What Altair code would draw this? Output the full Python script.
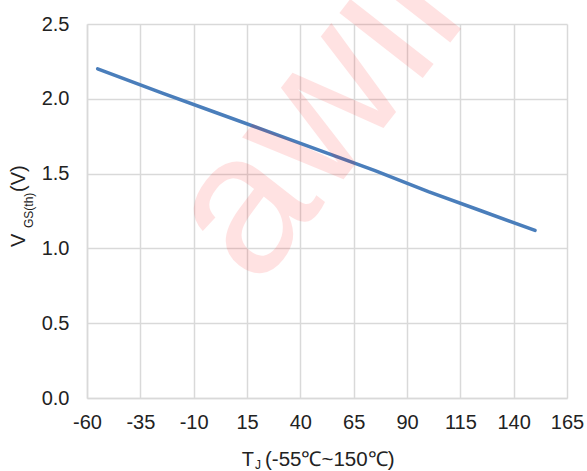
import altair as alt
import pandas as pd

# ---- data ----
temps = [-55, -25, 0, 25, 50, 75, 100, 125, 150]
vgs_th = [2.20, 2.04, 1.91, 1.78, 1.65, 1.52, 1.38, 1.25, 1.12]
x_ticks = [-60, -35, -10, 15, 40, 65, 90, 115, 140, 165]
y_ticks = [0.0, 0.5, 1.0, 1.5, 2.0, 2.5]
x_title_main = "T"
x_title_sub = "J"
x_title_rest = "(-55\u2103~150\u2103)"
y_title_main = "V"
y_title_sub = "GS(th)"
y_title_rest = "(V)"
watermark = "awinic"

FONT = "Arial, Liberation Sans, sans-serif"
W, H = 480, 374

df = pd.DataFrame({"T": temps, "V": vgs_th})

line = alt.Chart(df).mark_line(
    color="#4A7EBB", strokeWidth=3.5, strokeCap="round"
).encode(
    x=alt.X(
        "T:Q",
        scale=alt.Scale(domain=[x_ticks[0], x_ticks[-1]], nice=False, zero=False),
        axis=alt.Axis(
            values=x_ticks, labelExpr="'' + datum.value", title=None, ticks=False, tickSize=0,
            labelPadding=14, labelFontSize=20, labelFont=FONT, labelColor="#222222",
            gridColor="#D9D9D9", gridWidth=1.5, domainColor="#D9D9D9", domainWidth=1.5,
            labelFlush=False,
        ),
    ),
    y=alt.Y(
        "V:Q",
        scale=alt.Scale(domain=[y_ticks[0], y_ticks[-1]], nice=False),
        axis=alt.Axis(
            values=y_ticks, format=".1f", title=None, ticks=False, tickSize=0,
            labelPadding=18, labelFontSize=20, labelFont=FONT, labelColor="#222222",
            gridColor="#D9D9D9", gridWidth=1.5, domainColor="#D9D9D9", domainWidth=1.5,
            labelFlush=False,
        ),
    ),
)


def txt(s, x, y, size, angle=0, color="#222222", opacity=1.0):
    return alt.Chart(pd.DataFrame({"s": [s]})).mark_text(
        align="left", baseline="alphabetic", font=FONT, fontSize=size,
        angle=angle, color=color, opacity=opacity,
    ).encode(x=alt.value(x), y=alt.value(y), text="s:N")


wm = txt(watermark, 170, 266, 200, angle=308, color="#FF0000", opacity=0.11)

xt1 = txt(x_title_main, 154.7, 442, 20)
xt2 = txt(x_title_sub, 168, 444.5, 12)
xt3 = txt(x_title_rest, 178, 442, 20.5)

yt1 = txt(y_title_main, -62, 223, 20, angle=270)
yt2 = txt(y_title_sub, -54, 204, 12, angle=270)
yt3 = txt(y_title_rest, -62, 168, 20, angle=270)

chart = alt.layer(line, wm, xt1, xt2, xt3, yt1, yt2, yt3).properties(
    width=W, height=H,
    autosize=alt.AutoSizeParams(type="none"),
    padding={"left": 87, "top": 24, "right": 20, "bottom": 73},
).configure_view(stroke=None)

chart.save("out.html", embed_options={"renderer": "svg", "actions": False})
